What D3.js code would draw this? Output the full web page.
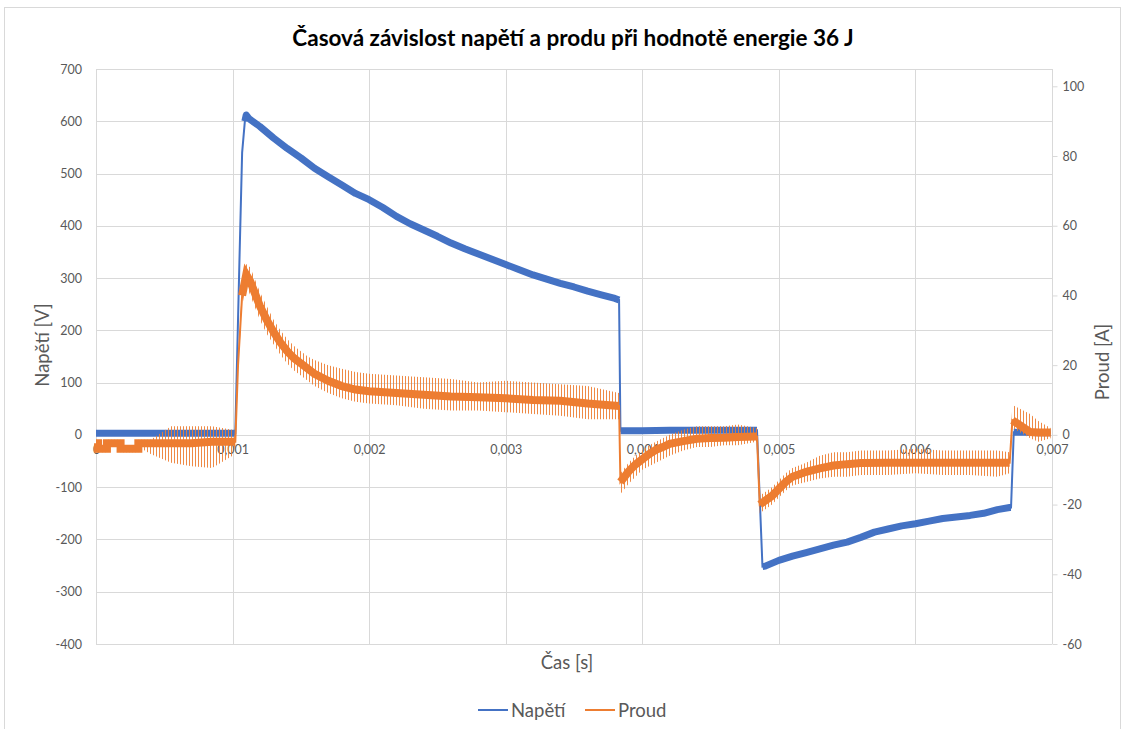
<!DOCTYPE html>
<html><head><meta charset="utf-8">
<script src="https://cdn.jsdelivr.net/npm/d3@7"></script>
<style>
body{margin:0;background:#fff}
text{font-family:Lato,"Open Sans",sans-serif}
</style>
</head><body>
<svg id="c" width="1126" height="729"></svg>
<script>
// ---------- data ----------
const chartTitle = "Časová závislost napětí a produ při hodnotě energie 36 J";
const timeTicks = [0, 0.001, 0.002, 0.003, 0.004, 0.005, 0.006, 0.007];
const voltageTicks = [-400, -300, -200, -100, 0, 100, 200, 300, 400, 500, 600, 700];
const currentTicks = [-60, -40, -20, 0, 20, 40, 60, 80, 100];

// Napětí [V]
const voltageTime = [0, 0.0002, 0.0004, 0.0006, 0.0008, 0.00102, 0.00105, 0.00107, 0.00109, 0.0011, 0.00112,
  0.0012, 0.0013, 0.0014, 0.0015, 0.0016, 0.0017, 0.0018, 0.0019, 0.002, 0.0021, 0.0022, 0.0023, 0.0024,
  0.0025, 0.0026, 0.0027, 0.0028, 0.0029, 0.003, 0.0031, 0.0032, 0.0033, 0.0034, 0.0035, 0.0036, 0.0037,
  0.0038, 0.00383, 0.00384, 0.004, 0.0042, 0.0044, 0.0046, 0.00484, 0.00488, 0.0049, 0.005, 0.0051, 0.0052,
  0.0053, 0.0054, 0.0055, 0.0056, 0.0057, 0.0058, 0.0059, 0.006, 0.0061, 0.0062, 0.0063, 0.0064, 0.0065,
  0.0066, 0.00669, 0.0067, 0.00672, 0.0068, 0.0069, 0.00699];
const voltageValue = [3, 3, 3, 3, 3, 3, 330, 540, 600, 612, 605,
  590, 568, 548, 530, 510, 494, 478, 462, 450, 435, 418, 404, 392,
  380, 367, 356, 346, 336, 326, 316, 306, 298, 290, 283, 275, 268,
  261, 258, 8, 8, 9, 9, 9, 9, -252, -251, -240, -232, -225,
  -218, -211, -205, -196, -186, -180, -174, -170, -165, -160, -157, -154, -150,
  -143, -139, -139, 5, 5, 4, 4];

// Proud [A]: band centre and extent of the spikes
const currentTime = [0, 0.000015, 0.000015, 0.00008, 0.00008, 0.00018, 0.00018, 0.00031, 0.00031, 0.0004,
  0.00055, 0.0007, 0.00085, 0.001, 0.00102,
  0.00104, 0.00107, 0.0011, 0.00113, 0.00116, 0.0012, 0.00125, 0.0013, 0.00135, 0.0014, 0.00145, 0.0015,
  0.00155, 0.0016, 0.0017, 0.0018, 0.0019, 0.002, 0.0022, 0.0024, 0.0026, 0.0028, 0.003, 0.0032, 0.0034,
  0.0036, 0.00383, 0.00384, 0.0039, 0.00395, 0.004, 0.00405, 0.0041, 0.00415, 0.0042, 0.0043, 0.0044,
  0.0045, 0.0046, 0.0047, 0.00484, 0.00486, 0.00495, 0.005, 0.00505, 0.0051, 0.0052, 0.0053, 0.0054,
  0.0055, 0.0056, 0.0058, 0.006, 0.0062, 0.0064, 0.0066, 0.00669, 0.00671, 0.00684, 0.0069, 0.00699];
const currentValue = [-2.4, -2.4, -4, -4, -2.4, -2.4, -4, -4, -2.4, -2.4,
  -2.4, -2.4, -2, -2, -2,
  20, 40, 46, 44, 41, 37, 33, 29.5, 26.5, 24, 22, 20.5,
  19, 17.5, 15.5, 14, 13, 12.5, 12, 11.5, 11, 10.8, 10.5, 10, 9.8,
  9, 8.3, -13.5, -10.5, -8.5, -7, -5.5, -4.3, -3.5, -2.6, -1.8, -1.1,
  -0.9, -0.8, -0.6, -0.5, -20, -17.5, -15.5, -13.5, -12, -10.6, -9.6, -8.8,
  -8.4, -8.1, -8, -8, -8, -8, -8, -8, 4.2, 0.8, 0.7, 0.7];
const currentSpikeHigh = [-1.4, -1.4, -3, -3, -1.4, -1.4, -3, -3, -1.4, -1.4,
  2.5, 2.5, 2.5, 1.5, -1,
  22, 43, 49, 48, 45, 41, 37, 33, 30, 27.5, 25.5, 24,
  22.5, 21.5, 20, 19, 18, 17.5, 17, 16.5, 16, 15, 15.5, 15, 14.5,
  14, 12, -11, -8, -6, -4.5, -3, -2, -1, 0, 1.5, 2.5,
  2.5, 2.5, 3, 2, -17.5, -15, -13, -11, -9.5, -8, -6, -5,
  -5, -4.5, -4.5, -4, -4.5, -4.5, -4.5, -5, 8.6, 6, 4, 2];
const currentSpikeLow = [-3.4, -3.4, -5, -5, -3.4, -3.4, -5, -5, -3.4, -5.5,
  -8, -9, -9.5, -6, -3,
  18, 37, 43, 40, 37, 33, 29, 26, 23, 20.5, 18.5, 17,
  15.5, 14, 12, 10.5, 9.5, 9, 8.5, 7.5, 7, 7, 6.5, 6, 5.5,
  4.5, 4.5, -17, -14, -12, -10, -9, -8, -7, -6, -4.5, -3.5,
  -3.5, -3, -3, -2, -22.5, -20, -18, -16, -14.5, -13.5, -12.5, -12,
  -12, -11.5, -11.5, -11, -11.5, -11.5, -12, -11, 2, -1, -2, -1];

const seriesNames = ["Napětí", "Proud"];

// ---------- layout ----------
const plot = {left: 96, right: 1052, top: 69, bottom: 644};
const blue = "#4472C4", orange = "#ED7D31", grid = "#d9d9d9", label = "#595959";

const x = d3.scaleLinear([0, 0.007], [plot.left, plot.right]);
const yV = d3.scaleLinear([-400, 700], [plot.bottom, plot.top]);
const yI = d3.scaleLinear([-60, 100], [plot.bottom, 86.3]);

const svg = d3.select("#c");
svg.append("rect").attr("x", 4.5).attr("y", 7.5).attr("width", 1116).attr("height", 740)
  .attr("fill", "#fff").attr("stroke", grid);

const defs = svg.append("defs");
const pat = defs.append("pattern").attr("id", "hatch").attr("patternUnits", "userSpaceOnUse")
  .attr("width", 3).attr("height", 10);
pat.append("rect").attr("x", 0).attr("y", 0).attr("width", 1).attr("height", 10).attr("fill", orange);

// gridlines
svg.append("g").selectAll("line").data(voltageTicks).join("line")
  .attr("x1", plot.left).attr("x2", plot.right)
  .attr("y1", d => Math.round(yV(d)) + 0.5).attr("y2", d => Math.round(yV(d)) + 0.5)
  .attr("stroke", grid);
svg.append("g").selectAll("line").data(timeTicks).join("line")
  .attr("y1", plot.top).attr("y2", plot.bottom)
  .attr("x1", d => Math.round(x(d)) + 0.5).attr("x2", d => Math.round(x(d)) + 0.5)
  .attr("stroke", grid);

const fmt = d => String(d).replace(".", ",");

// left axis
const ax1 = svg.append("g").attr("transform", `translate(${plot.left - 14},0)`)
  .call(d3.axisLeft(yV).tickValues(voltageTicks).tickSize(0).tickPadding(0).tickFormat(fmt));
ax1.select(".domain").remove();
ax1.selectAll("text").attr("fill", label).style("font-size", "12.5px").style("font-family", "Lato");

// right axis
const ax2 = svg.append("g").attr("transform", `translate(${plot.right + 0.5},0)`)
  .call(d3.axisRight(yI).tickValues(currentTicks).tickSize(5).tickPadding(5).tickFormat(fmt));
ax2.select(".domain").attr("d", `M0,${plot.top}V${plot.bottom}`).attr("stroke", grid);
ax2.selectAll(".tick line").attr("stroke", grid);
ax2.selectAll("text").attr("fill", label).style("font-size", "12.5px").style("font-family", "Lato");

// x labels at the zero line
const ax3 = svg.append("g").attr("transform", `translate(0,${yV(0) + 10})`)
  .call(d3.axisBottom(x).tickValues(timeTicks).tickSize(0).tickPadding(0).tickFormat(fmt));
ax3.select(".domain").remove();
ax3.selectAll("text").attr("fill", label).style("font-size", "12.5px").style("font-family", "Lato");

// split a series into runs without big jumps
function runs(ts, vs, thr) {
  const out = []; let cur = [[ts[0], vs[0]]];
  for (let i = 1; i < ts.length; i++) {
    if (Math.abs(vs[i] - vs[i - 1]) > thr) { out.push(cur); cur = []; }
    cur.push([ts[i], vs[i]]);
  }
  out.push(cur);
  return out.filter(r => r.length > 1);
}

// voltage
const vPts = voltageTime.map((t, i) => [t, voltageValue[i]]);
svg.append("path").attr("d", d3.line().x(d => x(d[0])).y(d => yV(d[1]))(vPts))
  .attr("fill", "none").attr("stroke", blue).attr("stroke-width", 2);
svg.append("g").selectAll("path").data(runs(voltageTime, voltageValue, 40)).join("path")
  .attr("d", d3.line().x(d => x(d[0])).y(d => yV(d[1])))
  .attr("fill", "none").attr("stroke", blue).attr("stroke-width", 7).attr("stroke-linejoin", "round");

// current
const iIdx = currentTime.map((t, i) => i);
svg.append("path")
  .attr("d", d3.area().x(i => x(currentTime[i])).y0(i => yI(currentSpikeLow[i])).y1(i => yI(currentSpikeHigh[i]))(iIdx))
  .attr("fill", "url(#hatch)").attr("opacity", 0.9);
const iPts = currentTime.map((t, i) => [t, currentValue[i]]);
svg.append("path").attr("d", d3.line().x(d => x(d[0])).y(d => yI(d[1]))(iPts))
  .attr("fill", "none").attr("stroke", orange).attr("stroke-width", 2);
svg.append("g").selectAll("path").data(runs(currentTime, currentValue, 10)).join("path")
  .attr("d", d3.line().x(d => x(d[0])).y(d => yI(d[1])))
  .attr("fill", "none").attr("stroke", orange).attr("stroke-width", 8).attr("stroke-linejoin", "miter");

// titles
svg.append("text").attr("x", 573).attr("y", 46).attr("text-anchor", "middle")
  .style("font-size", "22.5px").style("font-weight", "bold").attr("fill", "#000").text(chartTitle);
svg.append("text").attr("transform", "translate(49,345) rotate(-90)").attr("text-anchor", "middle")
  .style("font-size", "18.5px").attr("fill", label).text("Napětí [V]");
svg.append("text").attr("transform", "translate(1109,362) rotate(-90)").attr("text-anchor", "middle")
  .style("font-size", "18.5px").attr("fill", label).text("Proud [A]");
svg.append("text").attr("x", 567).attr("y", 669).attr("text-anchor", "middle")
  .style("font-size", "18.5px").attr("fill", label).text("Čas [s]");

// legend
const leg = svg.append("g");
const legX = [478, 585];
[blue, orange].forEach((c, i) => {
  leg.append("line").attr("x1", legX[i]).attr("x2", legX[i] + 30).attr("y1", 710).attr("y2", 710)
    .attr("stroke", c).attr("stroke-width", 2);
  leg.append("text").attr("x", legX[i] + 33).attr("y", 717).style("font-size", "18.5px")
    .attr("fill", label).text(seriesNames[i]);
});
</script>
</body></html>
